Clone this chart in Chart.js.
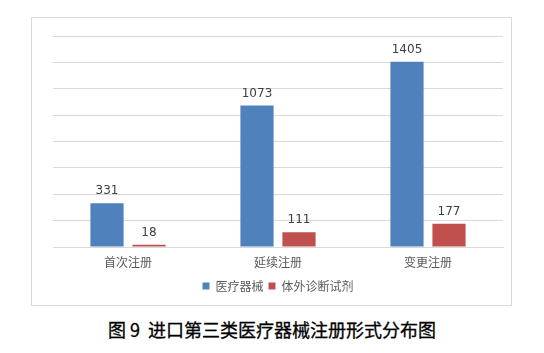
<!DOCTYPE html>
<html>
<head>
<meta charset="utf-8">
<script src="https://cdn.jsdelivr.net/npm/chart.js@4.4.0/dist/chart.umd.min.js"></script>
<style>
  html, body { margin: 0; padding: 0; background: #fff; }
  body { width: 544px; height: 353px; position: relative; overflow: hidden; }
  #box {
    position: absolute; left: 31px; top: 17px;
    width: 479px; height: 287px;
    border: 1px solid #d9d9d9;
  }
  #box canvas { display: block; }
  #title {
    position: absolute; left: 0; width: 544px; top: 316px;
    text-align: center; font-family: "Noto Sans CJK SC", sans-serif;
    font-size: 18px; font-weight: 400; color: #000; white-space: pre;
    -webkit-text-stroke: 0.3px #000;
  }
</style>
</head>
<body>
<div id="box"><canvas id="chart" width="479" height="287"></canvas></div>
<div id="title">图 9  进口第三类医疗器械注册形式分布图</div>
<script>
// categories and series
const categories = ['首次注册', '延续注册', '变更注册'];
const deviceValues = [331, 1073, 1405];
const ivdValues = [18, 111, 177];
const seriesNames = ['医疗器械', '体外诊断试剂'];

const CJK = '"Noto Sans CJK SC", sans-serif';

// draws the value above each bar
const barLabels = {
  id: 'barLabels',
  afterDatasetsDraw(chart) {
    const ctx = chart.ctx;
    ctx.save();
    ctx.font = '12px "DejaVu Sans", sans-serif';
    ctx.fillStyle = '#404040';
    ctx.textAlign = 'center';
    ctx.textBaseline = 'bottom';
    chart.data.datasets.forEach((ds, i) => {
      chart.getDatasetMeta(i).data.forEach((bar, j) => {
        ctx.fillText(String(ds.data[j]), bar.x, bar.y - 6);
      });
    });
    ctx.restore();
  }
};

new Chart(document.getElementById('chart'), {
  type: 'bar',
  data: {
    labels: categories,
    datasets: [
      {
        label: seriesNames[0],
        data: deviceValues,
        backgroundColor: '#4f81bd',
        categoryPercentage: 0.56,
        barPercentage: 0.79
      },
      {
        label: seriesNames[1],
        data: ivdValues,
        backgroundColor: '#c0504d',
        categoryPercentage: 0.56,
        barPercentage: 0.79
      }
    ]
  },
  options: {
    responsive: false,
    animation: false,
    layout: { padding: { left: 21, right: 8, top: 18, bottom: 3 } },
    plugins: {
      legend: {
        position: 'bottom',
        labels: {
          font: { family: CJK, size: 12 },
          color: '#595959',
          boxWidth: 7,
          boxHeight: 7,
          padding: 5
        }
      },
      tooltip: { enabled: false }
    },
    scales: {
      x: {
        grid: { display: false },
        border: { color: '#d9d9d9' },
        ticks: { font: { family: CJK, size: 12 }, color: '#595959', padding: 0 },
        // leave room between the category labels and the legend
        afterFit: (scale) => { scale.height = 28; }
      },
      y: {
        min: 0,
        max: 1600,
        ticks: { display: false, stepSize: 200 },
        grid: { color: '#d9d9d9', drawTicks: false },
        border: { display: false }
      }
    }
  },
  plugins: [barLabels]
});
</script>
</body>
</html>
